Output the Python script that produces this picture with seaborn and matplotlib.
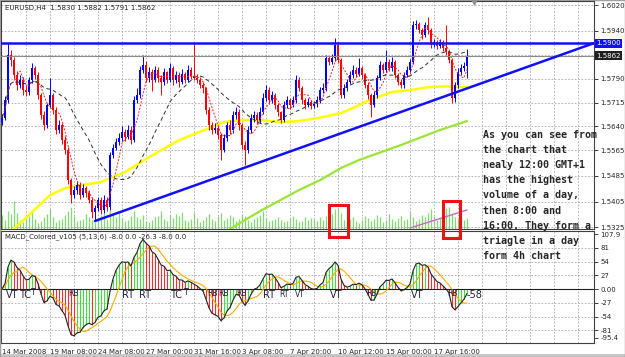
import matplotlib
matplotlib.use("Agg")
import matplotlib.pyplot as plt
import matplotlib.transforms as mtrans
from matplotlib.patches import Rectangle
import numpy as np
import pandas as pd
import seaborn as sns

sns.set_style("white")
plt.rcParams['font.family'] = ['DejaVu Sans']

# EURUSD H4 candles (bar 0 = 14 Mar 16:00)
first_open = 1.5654
closes = [
    1.5666, 1.5723, 1.5863, 1.5848, 1.5801, 1.5770, 1.5785, 1.5754, 1.5748, 1.5785,
    1.5823, 1.5801, 1.5738, 1.5676, 1.5644, 1.5707, 1.5738, 1.5691, 1.5629, 1.5644,
    1.5597, 1.5566, 1.5472, 1.5425, 1.5441, 1.5456, 1.5425, 1.5447, 1.5431, 1.5410,
    1.5372, 1.5384, 1.5410, 1.5378, 1.5410, 1.5388, 1.5550, 1.5572, 1.5591, 1.5604,
    1.5622, 1.5607, 1.5629, 1.5597, 1.5723, 1.5738, 1.5817, 1.5832, 1.5791, 1.5810,
    1.5785, 1.5817, 1.5791, 1.5779, 1.5810, 1.5785, 1.5823, 1.5785, 1.5801, 1.5779,
    1.5804, 1.5785, 1.5817, 1.5798, 1.5791, 1.5785, 1.5770, 1.5760, 1.5691, 1.5644,
    1.5629, 1.5635, 1.5613, 1.5566, 1.5604, 1.5644, 1.5629, 1.5676, 1.5685, 1.5644,
    1.5582, 1.5566, 1.5629, 1.5666, 1.5676, 1.5660, 1.5685, 1.5729, 1.5754, 1.5723,
    1.5738, 1.5707, 1.5685, 1.5660, 1.5707, 1.5723, 1.5707, 1.5723, 1.5785, 1.5760,
    1.5723, 1.5707, 1.5716, 1.5704, 1.5710, 1.5723, 1.5754, 1.5760, 1.5854, 1.5842,
    1.5854, 1.5895, 1.5848, 1.5738, 1.5760, 1.5779, 1.5801, 1.5817, 1.5804, 1.5823,
    1.5801, 1.5770, 1.5738, 1.5707, 1.5738, 1.5791, 1.5832, 1.5817, 1.5842, 1.5823,
    1.5842, 1.5801, 1.5779, 1.5770, 1.5801, 1.5817, 1.5842, 1.5957, 1.5962, 1.5942,
    1.5926, 1.5957, 1.5942, 1.5895, 1.5904, 1.5892, 1.5904, 1.5885, 1.5873, 1.5848,
    1.5729, 1.5770, 1.5810, 1.5823, 1.5830, 1.5862,
]
highs = [
    1.5680, 1.5735, 1.5901, 1.5880, 1.5858, 1.5815, 1.5800, 1.5795, 1.5770, 1.5795,
    1.5838, 1.5830, 1.5810, 1.5745, 1.5690, 1.5715, 1.5791, 1.5745, 1.5700, 1.5660,
    1.5650, 1.5610, 1.5575, 1.5480, 1.5455, 1.5470, 1.5465, 1.5460, 1.5455, 1.5440,
    1.5418, 1.5395, 1.5420, 1.5418, 1.5425, 1.5418, 1.5560, 1.5585, 1.5605, 1.5620,
    1.5640, 1.5632, 1.5645, 1.5640, 1.5735, 1.5760, 1.5830, 1.5863, 1.5845, 1.5825,
    1.5820, 1.5830, 1.5825, 1.5800, 1.5822, 1.5815, 1.5838, 1.5830, 1.5815, 1.5810,
    1.5820, 1.5812, 1.5832, 1.5825, 1.5901, 1.5805, 1.5795, 1.5780, 1.5765, 1.5700,
    1.5655, 1.5650, 1.5645, 1.5620, 1.5615, 1.5655, 1.5660, 1.5690, 1.5700, 1.5695,
    1.5650, 1.5595, 1.5640, 1.5678, 1.5690, 1.5685, 1.5700, 1.5745, 1.5770, 1.5765,
    1.5752, 1.5745, 1.5715, 1.5690, 1.5720, 1.5735, 1.5730, 1.5735, 1.5800, 1.5795,
    1.5768, 1.5730, 1.5728, 1.5722, 1.5720, 1.5735, 1.5765, 1.5775, 1.5865, 1.5862,
    1.5866, 1.5917, 1.5905, 1.5855, 1.5772, 1.5790, 1.5815, 1.5832, 1.5825, 1.5854,
    1.5830, 1.5808, 1.5778, 1.5745, 1.5750, 1.5800, 1.5845, 1.5840, 1.5879, 1.5850,
    1.5858, 1.5848, 1.5808, 1.5788, 1.5812, 1.5828, 1.5852, 1.5970, 1.5975, 1.5968,
    1.5950, 1.5968, 1.5982, 1.5948, 1.5915, 1.5912, 1.5915, 1.5910, 1.5957, 1.5880,
    1.5855, 1.5780, 1.5822, 1.5835, 1.5842, 1.5882,
]
lows = [
    1.5645, 1.5660, 1.5715, 1.5830, 1.5790, 1.5755, 1.5760, 1.5740, 1.5735, 1.5740,
    1.5775, 1.5790, 1.5725, 1.5665, 1.5630, 1.5635, 1.5700, 1.5680, 1.5615, 1.5620,
    1.5585, 1.5555, 1.5460, 1.5400, 1.5415, 1.5430, 1.5412, 1.5418, 1.5420, 1.5400,
    1.5355, 1.5347, 1.5375, 1.5365, 1.5370, 1.5375, 1.5380, 1.5540, 1.5565, 1.5582,
    1.5595, 1.5595, 1.5600, 1.5585, 1.5590, 1.5715, 1.5730, 1.5808, 1.5780, 1.5780,
    1.5750, 1.5778, 1.5780, 1.5740, 1.5770, 1.5775, 1.5778, 1.5770, 1.5775, 1.5765,
    1.5772, 1.5775, 1.5780, 1.5790, 1.5785, 1.5775, 1.5760, 1.5745, 1.5680, 1.5630,
    1.5615, 1.5620, 1.5600, 1.5535, 1.5560, 1.5595, 1.5615, 1.5620, 1.5665, 1.5630,
    1.5570, 1.5519, 1.5558, 1.5620, 1.5655, 1.5648, 1.5652, 1.5678, 1.5720, 1.5712,
    1.5715, 1.5695, 1.5672, 1.5650, 1.5655, 1.5698, 1.5695, 1.5700, 1.5715, 1.5750,
    1.5712, 1.5695, 1.5700, 1.5695, 1.5698, 1.5702, 1.5715, 1.5745, 1.5750, 1.5832,
    1.5835, 1.5845, 1.5838, 1.5728, 1.5730, 1.5750, 1.5772, 1.5792, 1.5795, 1.5798,
    1.5790, 1.5760, 1.5725, 1.5669, 1.5700, 1.5730, 1.5785, 1.5808, 1.5810, 1.5815,
    1.5815, 1.5792, 1.5770, 1.5760, 1.5762, 1.5795, 1.5810, 1.5835, 1.5945, 1.5932,
    1.5915, 1.5920, 1.5930, 1.5885, 1.5888, 1.5882, 1.5885, 1.5875, 1.5865, 1.5838,
    1.5713, 1.5718, 1.5762, 1.5800, 1.5815, 1.5791,
]
volumes = [
    1400, 900, 1800, 1500, 2800, 1600, 900, 700, 1100, 1300, 1700, 1000,
    600, 800, 1200, 1500, 2000, 1200, 700, 900, 1000, 1400, 1800, 2200,
    1300, 800, 900, 1000, 1500, 1200, 900, 700, 1100, 1400, 1600, 1000,
    1900, 1500, 1200, 1600, 1100, 800, 900, 1300, 1800, 1200, 1000, 1400,
    800, 700, 900, 1200, 1300, 1800, 1000, 800, 1400, 1100, 1500, 1300,
    1700, 900, 800, 1000, 1600, 1100, 700, 900, 1200, 1500, 1000, 800,
    1300, 1600, 900, 1100, 1400, 1200, 800, 1000, 1500, 1300, 900, 700,
    1000, 1200, 1400, 1800, 1100, 800, 900, 1000, 1200, 900, 700, 800,
    1100, 1300, 1000, 700, 800, 1200, 900, 1100, 1000, 800, 1200, 900,
    1300, 1100, 1500, 2000, 2100, 1600, 900, 700, 1000, 1200, 800, 600,
    900, 1300, 1100, 800, 1000, 1400, 1200, 700, 900, 1500, 1000, 800,
    1100, 1300, 900, 1000, 1700, 1200, 800, 1000, 1400, 1200, 1600, 2000,
    1300, 900, 1100, 1500, 2100, 2200, 1600, 1200, 1000, 1300, 900, 1100,
]

# long moving averages (points read along the yellow and green lines)
yellow_idx = [4, 10, 16, 21, 26, 33, 36, 41, 49, 59, 69, 74, 80, 86, 93, 99, 105,
              113, 117, 121, 124, 130, 136, 142, 148, 155]
yellow_px = [1.5319, 1.5372, 1.5425, 1.5447, 1.5456, 1.5466, 1.5478, 1.5497, 1.5544,
             1.5597, 1.5635, 1.5654, 1.5660, 1.5660, 1.5654, 1.5657, 1.5666, 1.5682,
             1.5698, 1.5716, 1.5728, 1.5748, 1.5754, 1.5763, 1.5766, 1.5763]
green_idx = [76, 86, 99, 106, 113, 119, 133, 146, 155]
green_px = [1.5319, 1.5375, 1.5441, 1.5472, 1.5510, 1.5535, 1.5582, 1.5629, 1.5657]
vol_ma_idx = [136, 155]
vol_ma = [100, 1900]

trend_idx = [31, 197.3]
trend_px = [1.5344, 1.5901]
resistance = 1.5900
last_price = 1.5862

price_ticks = [1.6020, 1.5940, 1.5865, 1.5790, 1.5715, 1.5640, 1.5565, 1.5485, 1.5405, 1.5325]
price_labels = ["1.6020", "1.5940", "", "1.5790", "1.5715", "1.5640", "1.5565",
                "1.5485", "1.5405", "1.5325"]
macd_ticks = [107.9, 81, 54, 27, 0, -27, -54, -81, -95.4]
macd_labels = ["107.9", "81", "54", "27", "0.00", "-27", "-54", "-81", "-95.4"]
date_pos = [0, 16, 32, 48, 64, 80, 96, 112, 128, 144]
date_labels = ["14 Mar 2008", "19 Mar 08:00", "24 Mar 08:00", "27 Mar 00:00",
               "31 Mar 16:00", "3 Apr 08:00", "7 Apr 20:00", "10 Apr 12:00",
               "15 Apr 00:00", "17 Apr 16:00"]

# signal marks written in the MACD window: (text, bar, value, big font?)
marks = [("VT", 3.5, -12, True), ("TC", 7.7, -12, True), ("T", 10.4, -7, False),
         ("RB", 23.7, -8, False), ("RT", 42, -12, True), ("RT", 47.7, -12, True),
         ("TC", 58, -12, True), ("T", 61.5, -7, False), ("RB", 70.3, -8, False),
         ("RB", 74, -8, False), ("RB", 80, -8, False), ("RT", 89, -12, True),
         ("RT", 94, -10, False), ("VT", 99.3, -10, False), ("VT", 111.3, -12, True),
         ("RB", 123.3, -8, False), ("VT", 138.3, -12, True), ("RB", 150.3, -8, False),
         ("-58", 157.5, -12, True)]

note = ["As you can see from", "the chart that", "nealy 12:00 GMT+1",
        "has the highest", "volume of a day,", "then 8:00 and",
        "16:00. They form a", "triagle in a day", "form 4h chart"]

df = pd.DataFrame({"close": closes, "high": highs, "low": lows, "volume": volumes})
df["open"] = df["close"].shift(1).fillna(first_open)
df["bar"] = np.arange(len(df))
df["ma_fast"] = df["close"].rolling(5, min_periods=1).mean()
df["ma_slow"] = df["close"].rolling(21, min_periods=1).mean()
ema_fast = df["close"].ewm(span=5, adjust=False).mean()
ema_slow = df["close"].ewm(span=13, adjust=False).mean()
df["macd"] = (ema_fast - ema_slow) * 10000
df["signal"] = df["macd"].rolling(6, min_periods=1).mean()
df["rising"] = df["macd"].diff().fillna(1) > 0

W, H = 625, 357
fig = plt.figure(figsize=(W / 100, H / 100), dpi=100)
rect_main = [1 / W, 1 - 229 / H, 593 / W, 228 / H]
axv = fig.add_axes(rect_main)
ax = fig.add_axes(rect_main)
axm = fig.add_axes([1 / W, 1 - 343 / H, 593 / W, 112 / H])
axv.set_zorder(0)
ax.set_zorder(1)
ax.patch.set_visible(False)

xlim = (-0.33, 197.33)
grid_kw = dict(color="#a8a8a8", lw=0.6, linestyle=(0, (2, 2)))

# volume
axv.vlines(df["bar"], 0, df["volume"], colors="#7fdc6f", lw=0.9)
sns.lineplot(x=vol_ma_idx, y=vol_ma, ax=axv, color="#cc66cc", lw=1.0)
axv.set_xlim(xlim)
axv.set_ylim(0, 22800)
axv.set_axis_off()

# price window
for b in range(8, 197, 8):
    ax.axvline(b, zorder=0, **grid_kw)
for p in price_ticks:
    ax.axhline(p, zorder=0, **grid_kw)

sns.lineplot(x=yellow_idx, y=yellow_px, ax=ax, color="#ffff00", lw=1.8, zorder=2)
sns.lineplot(x=green_idx, y=green_px, ax=ax, color="#99e633", lw=1.6, zorder=2)

up = df["close"] >= df["open"]
cols = np.where(up, "#0000ff", "#ff0000")
ax.vlines(df["bar"], df["low"], df["high"], colors=cols, lw=0.7, zorder=3)
body = (df["close"] - df["open"]).abs().clip(lower=0.00008)
ax.bar(df["bar"], body, bottom=df[["open", "close"]].min(axis=1), width=0.62,
       color=cols, zorder=3, linewidth=0)

sns.lineplot(data=df, x="bar", y="ma_fast", ax=ax, color="#ff2020", lw=0.7,
             linestyle=(0, (2, 1.5)), zorder=4)
sns.lineplot(data=df, x="bar", y="ma_slow", ax=ax, color="#303030", lw=0.7,
             linestyle=(0, (4, 3)), zorder=4)

ax.axhline(last_price, color="#8a8a8a", lw=0.8, zorder=4)
ax.axhline(resistance, color="#1010ff", lw=1.8, zorder=5)
sns.lineplot(x=trend_idx, y=trend_px, ax=ax, color="#1010ff", lw=1.8, zorder=5)

ax.set_xlim(xlim)
ax.set_ylim(1.5319, 1.6033)
ax.set_xticks([])
ax.yaxis.tick_right()
ax.set_yticks(price_ticks)
ax.set_yticklabels(price_labels)
ax.tick_params(axis="y", labelsize=5, length=3, pad=1.5, width=0.6)
ax.set_xlabel("")
ax.set_ylabel("")
ax.plot(157.3, 1.6031, marker="v", color="#909090", ms=3.5, clip_on=False, zorder=6)

tr = mtrans.blended_transform_factory(ax.transAxes, ax.transData)
ax.text(1.004, resistance, "1.5900", transform=tr, fontsize=5, color="white",
        va="center", ha="left", bbox=dict(boxstyle="square,pad=0.2", fc="#1010ff", ec="none"))
ax.text(1.004, last_price, "1.5862", transform=tr, fontsize=5, color="white",
        va="center", ha="left", bbox=dict(boxstyle="square,pad=0.2", fc="#202020", ec="none"))

# MACD window
for b in range(8, 197, 8):
    axm.axvline(b, zorder=0, **grid_kw)
for v in [81, 54, 27, -27, -54, -81]:
    axm.axhline(v, zorder=0, **grid_kw)
hist_cols = np.where(df["rising"], "#3ee03e", "#f03030")
axm.vlines(df["bar"], 0, df["macd"], colors=hist_cols, lw=0.8, zorder=1)
axm.axhline(0, color="#202020", lw=0.8, zorder=2)
sns.lineplot(data=df, x="bar", y="signal", ax=axm, color="#ffaa00", lw=0.8, zorder=3)
sns.lineplot(data=df, x="bar", y="macd", ax=axm, color="#202020", lw=0.8, zorder=4)
for txt, b, v, big in marks:
    axm.text(b, v, txt, fontsize=7 if big else 5.5, color="#202040",
             ha="center", va="center", zorder=5)

axm.set_xlim(xlim)
axm.set_ylim(-106, 114)
axm.yaxis.tick_right()
axm.set_yticks(macd_ticks)
axm.set_yticklabels(macd_labels)
axm.set_xticks(date_pos)
axm.set_xticklabels(date_labels)
for lab in axm.get_xticklabels():
    lab.set_ha("left")
axm.tick_params(axis="y", labelsize=5, length=3, pad=1.5, width=0.6)
axm.tick_params(axis="x", labelsize=5, length=3, pad=1.5, width=0.6, direction="out")
axm.set_xlabel("")
axm.set_ylabel("")

for a in (ax, axm):
    for s in a.spines.values():
        s.set_visible(True)
        s.set_color("#404040")
        s.set_linewidth(0.8)

fig.text(5 / W, 1 - 8 / H, "EURUSD,H4  1.5830 1.5882 1.5791 1.5862", fontsize=5,
         va="center", ha="left")
fig.text(5 / W, 1 - 237 / H, "MACD_Colored_v105 (5,13,6) -8.0 0.0 -26.3 -8.0 0.0",
         fontsize=5, va="center", ha="left")

for k, line in enumerate(note):
    fig.text(483 / W, 1 - (135 + k * 15.1) / H, line, fontsize=7.2,
             family="DejaVu Sans Mono", weight="bold", va="center", ha="left", zorder=10)

for x0, y0, x1, y1 in [(329, 205, 348, 237), (443, 201, 460, 238)]:
    fig.add_artist(Rectangle((x0 / W, 1 - y1 / H), (x1 - x0) / W, (y1 - y0) / H,
                             transform=fig.transFigure, fill=False, ec="#ee1111",
                             lw=2.2, zorder=10))

fig.add_artist(Rectangle((0, 0), 1, 3 / H, transform=fig.transFigure,
                         fc="#c8c8c8", ec="none", zorder=0))
fig.add_artist(Rectangle((0, 0), 1, 1, transform=fig.transFigure, fill=False,
                         ec="#a0a0a0", lw=1))

fig.savefig("out.png", dpi=100)
